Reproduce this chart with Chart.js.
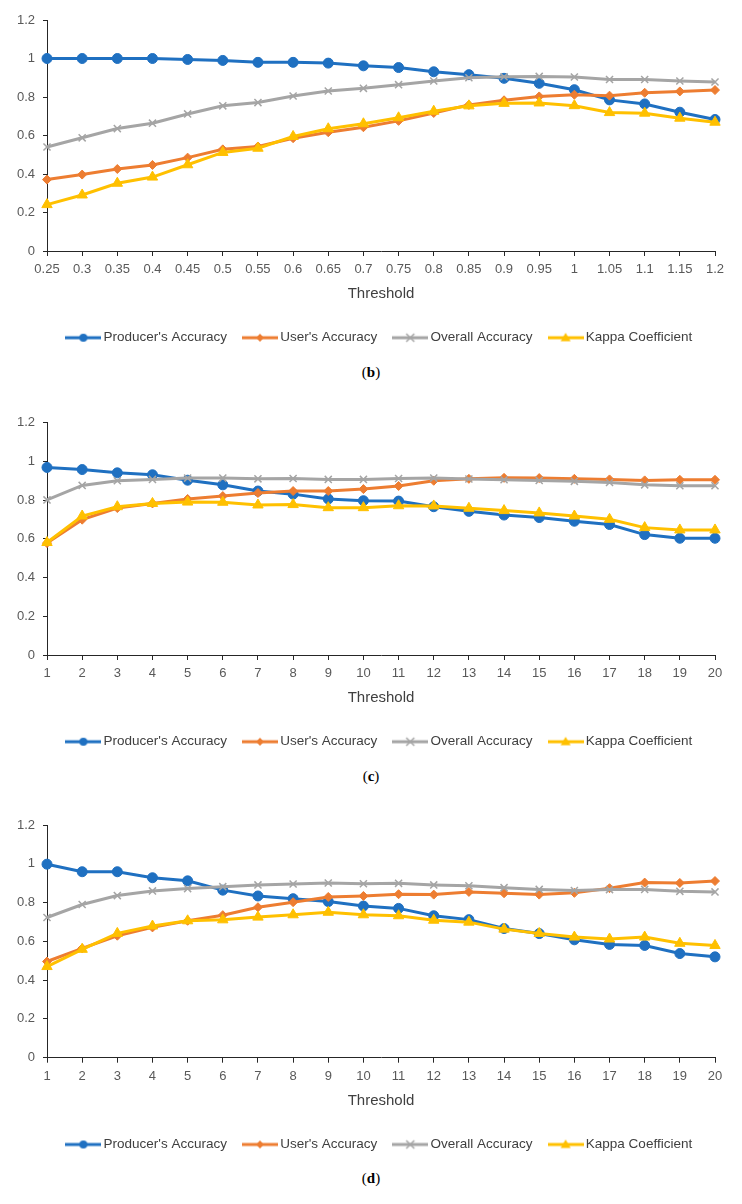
<!DOCTYPE html>
<html>
<head>
<meta charset="utf-8">
<script src="https://cdn.jsdelivr.net/npm/chart.js@4/dist/chart.umd.min.js"></script>
<style>
  html, body { margin: 0; padding: 0; background: #fff; }
  body { width: 742px; height: 1204px; position: relative; overflow: hidden; }
  .panel { position: absolute; left: 0; width: 742px; height: 362px; }
  .cap { position: absolute; left: 0; width: 742px; text-align: center; font-family: 'Liberation Serif', 'DejaVu Serif', serif; font-size: 15px; line-height: 20px; color: #000; }
</style>
</head>
<body>
<div class="panel" style="top:0px"><canvas id="cb" width="742" height="362"></canvas></div>
<div class="cap" style="top:362px">(<b>b</b>)</div>
<div class="panel" style="top:400px"><canvas id="cc" width="742" height="362"></canvas></div>
<div class="cap" style="top:766px">(<b>c</b>)</div>
<div class="panel" style="top:800px"><canvas id="cd" width="742" height="362"></canvas></div>
<div class="cap" style="top:1168px">(<b>d</b>)</div>
<script>
// ---------- data ----------
const SERIES_NAMES = ["Producer's Accuracy", "User's Accuracy", "Overall Accuracy", "Kappa Coefficient"];
const Y_TICKS = ['0', '0.2', '0.4', '0.6', '0.8', '1', '1.2'];

const B_LABELS = ['0.25','0.3','0.35','0.4','0.45','0.5','0.55','0.6','0.65','0.7','0.75','0.8','0.85','0.9','0.95','1','1.05','1.1','1.15','1.2'];
const B_PRODUCER = [1, 1, 1, 1, 0.995, 0.99, 0.98, 0.98, 0.976, 0.962, 0.953, 0.931, 0.916, 0.897, 0.871, 0.838, 0.785, 0.764, 0.721, 0.683];
const B_USER     = [0.371, 0.397, 0.426, 0.447, 0.485, 0.528, 0.543, 0.586, 0.617, 0.643, 0.676, 0.717, 0.759, 0.783, 0.803, 0.812, 0.807, 0.822, 0.829, 0.836];
const B_OVERALL  = [0.54, 0.588, 0.636, 0.664, 0.712, 0.754, 0.771, 0.805, 0.831, 0.845, 0.864, 0.883, 0.9, 0.905, 0.907, 0.904, 0.891, 0.891, 0.883, 0.878];
const B_KAPPA    = [0.241, 0.291, 0.352, 0.384, 0.448, 0.512, 0.534, 0.595, 0.635, 0.661, 0.692, 0.726, 0.754, 0.767, 0.769, 0.755, 0.719, 0.716, 0.69, 0.669];

const C_LABELS = ['1','2','3','4','5','6','7','8','9','10','11','12','13','14','15','16','17','18','19','20'];
const C_PRODUCER = [0.969, 0.958, 0.941, 0.931, 0.903, 0.879, 0.847, 0.831, 0.806, 0.797, 0.795, 0.766, 0.742, 0.723, 0.71, 0.691, 0.674, 0.622, 0.603, 0.603];
const C_USER     = [0.578, 0.699, 0.759, 0.783, 0.806, 0.821, 0.837, 0.847, 0.847, 0.857, 0.873, 0.9, 0.91, 0.915, 0.914, 0.91, 0.907, 0.902, 0.905, 0.905];
const C_OVERALL  = [0.801, 0.876, 0.9, 0.907, 0.914, 0.914, 0.91, 0.912, 0.907, 0.907, 0.912, 0.914, 0.909, 0.905, 0.902, 0.897, 0.891, 0.879, 0.874, 0.874];
const C_KAPPA    = [0.581, 0.718, 0.766, 0.783, 0.79, 0.789, 0.775, 0.777, 0.761, 0.761, 0.771, 0.77, 0.758, 0.746, 0.734, 0.718, 0.701, 0.658, 0.646, 0.646];

const D_LABELS = ['1','2','3','4','5','6','7','8','9','10','11','12','13','14','15','16','17','18','19','20'];
const D_PRODUCER = [0.998, 0.959, 0.959, 0.928, 0.912, 0.864, 0.834, 0.82, 0.805, 0.782, 0.77, 0.732, 0.712, 0.666, 0.64, 0.608, 0.584, 0.579, 0.537, 0.52];
const D_USER     = [0.496, 0.564, 0.629, 0.672, 0.706, 0.735, 0.776, 0.802, 0.829, 0.834, 0.843, 0.841, 0.855, 0.848, 0.841, 0.85, 0.874, 0.903, 0.901, 0.911];
const D_OVERALL  = [0.723, 0.79, 0.836, 0.86, 0.872, 0.882, 0.891, 0.896, 0.901, 0.897, 0.899, 0.891, 0.887, 0.877, 0.868, 0.862, 0.867, 0.868, 0.858, 0.855];
const D_KAPPA    = [0.47, 0.559, 0.641, 0.679, 0.706, 0.711, 0.725, 0.737, 0.75, 0.737, 0.732, 0.709, 0.699, 0.663, 0.641, 0.622, 0.612, 0.622, 0.59, 0.579];

// ---------- styles ----------
const COLORS = ['#1F70C1', '#ED7D31', '#A5A5A5', '#FFC000'];
const STYLES = ['circle', 'rectRot', 'crossRot', 'triangle'];
const RADII = [5, 4.5, 5, 6];

Chart.defaults.font.family = "'Liberation Sans', Arial, sans-serif";
Chart.defaults.color = '#595959';

function legendGlyph(i) {
  const c = document.createElement('canvas');
  c.width = 36; c.height = 14;
  const g = c.getContext('2d');
  g.strokeStyle = COLORS[i]; g.fillStyle = COLORS[i];
  g.lineWidth = 3; g.lineCap = 'butt';
  g.beginPath(); g.moveTo(0, 7); g.lineTo(36, 7); g.stroke();
  const cx = 18, cy = 7;
  g.beginPath();
  if (i === 0) { g.arc(cx, cy, 4, 0, Math.PI * 2); g.fill(); }
  else if (i === 1) { g.moveTo(cx, cy - 4); g.lineTo(cx + 4, cy); g.lineTo(cx, cy + 4); g.lineTo(cx - 4, cy); g.closePath(); g.fill(); }
  else if (i === 2) { g.lineWidth = 1.5; g.moveTo(cx - 4, cy - 4); g.lineTo(cx + 4, cy + 4); g.moveTo(cx + 4, cy - 4); g.lineTo(cx - 4, cy + 4); g.stroke(); }
  else { g.moveTo(cx, cy - 5); g.lineTo(cx + 5, cy + 3.5); g.lineTo(cx - 5, cy + 3.5); g.closePath(); g.fill(); }
  return c;
}
const GLYPHS = [0, 1, 2, 3].map(legendGlyph);

function makeChart(id, labels, series, padTop, padBottom) {
  const datasets = series.map((vals, i) => ({
    label: SERIES_NAMES[i],
    data: vals,
    borderColor: COLORS[i],
    backgroundColor: COLORS[i],
    borderWidth: 3,
    pointStyle: STYLES[i],
    pointRadius: RADII[i],
    pointBorderWidth: i === 2 ? 1.5 : 1,
    pointBorderColor: COLORS[i],
    pointBackgroundColor: COLORS[i],
    tension: 0,
    fill: false,
    order: 4 - i
  }));
  return new Chart(document.getElementById(id), {
    type: 'line',
    data: { labels: labels, datasets: datasets },
    options: {
      responsive: false,
      animation: false,
      devicePixelRatio: 1,
      layout: { padding: { top: padTop, bottom: padBottom, left: 0, right: 27 } },
      plugins: {
        tooltip: { enabled: false },
        title: { display: false },
        legend: {
          display: true,
          position: 'bottom',
          fullSize: false,
          labels: {
            usePointStyle: true,
            pointStyleWidth: 27,
            padding: 19.5,
            color: '#404040',
            font: { size: 13.5, lineHeight: 1 },
            generateLabels: () => SERIES_NAMES.map((n, i) => ({
              text: n, pointStyle: GLYPHS[i], fillStyle: COLORS[i], strokeStyle: COLORS[i],
              lineWidth: 0, hidden: false, datasetIndex: i, fontColor: '#404040'
            }))
          }
        }
      },
      scales: {
        x: {
          type: 'category',
          offset: false,
          grid: { display: true, drawOnChartArea: false, drawTicks: true, tickLength: 5, tickColor: '#262626' },
          border: { display: true, color: '#262626', width: 1 },
          ticks: { padding: 6, font: { size: 13 }, color: '#595959', maxRotation: 0, autoSkip: false },
          title: { display: true, text: 'Threshold', font: { size: 15, lineHeight: 1.2 }, color: '#404040', padding: { top: 1.4, bottom: 8.5 } }
        },
        y: {
          type: 'linear',
          min: 0, max: 1.2,
          grid: { display: true, drawOnChartArea: false, drawTicks: true, tickLength: 4, tickColor: '#262626' },
          border: { display: true, color: '#262626', width: 1 },
          ticks: {
            stepSize: 0.2, padding: 8, font: { size: 13 }, color: '#595959',
            callback: (v) => Y_TICKS[Math.round(v / 0.2)]
          },
          afterFit: (s) => { s.width = 47; }
        }
      }
    }
  });
}

makeChart('cb', B_LABELS, [B_PRODUCER, B_USER, B_OVERALL, B_KAPPA], 20, 7.5);
makeChart('cc', C_LABELS, [C_PRODUCER, C_USER, C_OVERALL, C_KAPPA], 22.7, 3.5);
makeChart('cd', D_LABELS, [D_PRODUCER, D_USER, D_OVERALL, D_KAPPA], 25, 0.8);
</script>
</body>
</html>
